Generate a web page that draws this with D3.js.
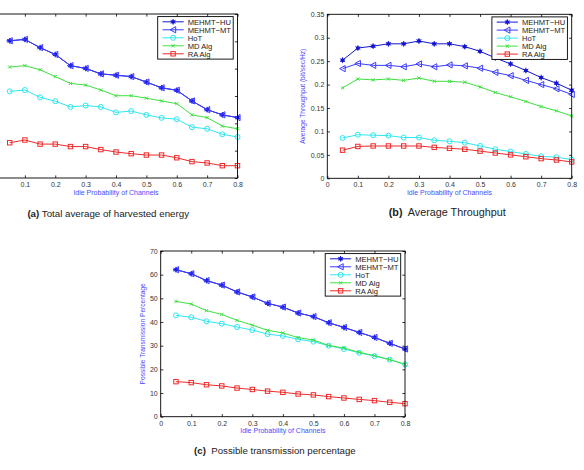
<!DOCTYPE html>
<html>
<head>
<meta charset="utf-8">
<script src="https://cdn.jsdelivr.net/npm/d3@7"></script>
<style>
  html, body { margin: 0; padding: 0; background: #fff; }
  svg { display: block; font-family: "Liberation Sans", Arial, Helvetica, sans-serif; }
</style>
</head>
<body>
<svg id="chart" width="584" height="470"></svg>
<script>
// ---------------- DATA ----------------
const xValues = [0.05, 0.1, 0.15, 0.2, 0.25, 0.3, 0.35, 0.4, 0.45, 0.5, 0.55, 0.6, 0.65, 0.7, 0.75, 0.8];
const xTicks = [0, 0.1, 0.2, 0.3, 0.4, 0.5, 0.6, 0.7, 0.8];
const xTickLabels = ["0", "0.1", "0.2", "0.3", "0.4", "0.5", "0.6", "0.7", "0.8"];
const seriesNames = ["MEHMT\u2212HU", "MEHMT\u2212MT", "HoT", "MD Alg", "RA Alg"];
const xAxisTitle = "Idle Probability of Channels";

// (a) Total average of harvested energy (y labels are cut off in the reference)
const energyHU  = [5.02, 5.07, 4.77, 4.52, 4.11, 4.01, 3.81, 3.76, 3.71, 3.51, 3.30, 3.21, 2.82, 2.50, 2.31, 2.21];
const energyMT  = [5.02, 5.07, 4.77, 4.52, 4.11, 4.01, 3.81, 3.76, 3.71, 3.51, 3.30, 3.21, 2.82, 2.50, 2.31, 2.21];
const energyHoT = [3.17, 3.22, 2.95, 2.81, 2.60, 2.65, 2.60, 2.40, 2.45, 2.31, 2.20, 2.15, 1.86, 1.80, 1.60, 1.50];
const energyMD  = [4.06, 4.11, 3.96, 3.71, 3.46, 3.40, 3.22, 3.01, 3.01, 2.92, 2.82, 2.72, 2.31, 2.21, 1.90, 1.80];
const energyRA  = [1.29, 1.39, 1.24, 1.24, 1.15, 1.15, 1.04, 0.95, 0.89, 0.84, 0.84, 0.74, 0.60, 0.55, 0.45, 0.45];
const energyTicks = [0, 1, 2, 3, 4, 5, 6];
const energyTickLabels = null; // hidden (off the visible page in the reference)
const energyXTickLabels = ["", "0.1", "0.2", "0.3", "0.4", "0.5", "0.6", "0.7", "0.8"];

// (b) Average Throughput
const thrHU  = [0.252, 0.278, 0.282, 0.287, 0.287, 0.293, 0.287, 0.287, 0.281, 0.271, 0.257, 0.244, 0.230, 0.215, 0.203, 0.188];
const thrMT  = [0.234, 0.245, 0.241, 0.241, 0.238, 0.244, 0.238, 0.242, 0.240, 0.235, 0.226, 0.219, 0.209, 0.200, 0.191, 0.179];
const thrHoT = [0.086, 0.093, 0.092, 0.091, 0.087, 0.087, 0.081, 0.079, 0.076, 0.069, 0.062, 0.057, 0.052, 0.047, 0.045, 0.040];
const thrMD  = [0.193, 0.212, 0.210, 0.212, 0.209, 0.214, 0.207, 0.207, 0.205, 0.195, 0.183, 0.174, 0.164, 0.153, 0.144, 0.133];
const thrRA  = [0.060, 0.068, 0.069, 0.069, 0.069, 0.069, 0.066, 0.064, 0.062, 0.058, 0.054, 0.050, 0.046, 0.042, 0.039, 0.035];
const thrTicks = [0, 0.05, 0.1, 0.15, 0.2, 0.25, 0.3, 0.35];
const thrTickLabels = ["0", "0.05", "0.1", "0.15", "0.2", "0.25", "0.3", "0.35"];

// (c) Possible transmission percentage
const trHU  = [62.1, 60.4, 57.5, 55.6, 52.7, 50.6, 47.9, 46.3, 43.8, 42.3, 39.7, 37.7, 35.6, 33.5, 31.0, 28.6];
const trMT  = [62.1, 60.4, 57.5, 55.6, 52.7, 50.6, 47.9, 46.3, 43.8, 42.3, 39.7, 37.7, 35.6, 33.5, 31.0, 28.6];
const trHoT = [42.8, 42.0, 40.3, 39.3, 37.9, 36.6, 34.9, 34.1, 32.7, 31.7, 30.0, 28.6, 27.0, 25.6, 24.1, 22.1];
const trMD  = [48.7, 47.6, 44.8, 43.2, 40.7, 38.7, 36.5, 35.4, 33.4, 32.4, 30.1, 29.0, 27.2, 25.8, 24.1, 22.1];
const trRA  = [14.8, 14.4, 13.5, 13.0, 12.1, 11.5, 10.8, 10.3, 9.6, 9.2, 8.5, 7.9, 7.3, 6.8, 6.1, 5.5];
const trTicks = [0, 10, 20, 30, 40, 50, 60, 70];
const trTickLabels = ["0", "10", "20", "30", "40", "50", "60", "70"];

// ---------------- STYLE ----------------
const seriesStyle = [
  { color: "#1414d2", marker: "star" },
  { color: "#3a3aff", marker: "triLeft" },
  { color: "#2fe6f0", marker: "circle" },
  { color: "#3ee03e", marker: "x" },
  { color: "#ee2a2a", marker: "square" }
];
const titleColor = "#4a4aff";
const tickColor = "#333";

const svg = d3.select("#chart");

function drawMarker(g, type, color) {
  if (type === "star") {
    g.append("circle").attr("r", 1.9).attr("fill", color);
    g.append("path").attr("d", d3.symbol(d3.symbolAsterisk, 22)()).attr("stroke", color).attr("stroke-width", 1).attr("fill", "none");
  } else if (type === "triLeft") {
    g.append("path").attr("d", "M-3,0L2.6,-3.1L2.6,3.1Z").attr("stroke", color).attr("stroke-width", 1).attr("fill", "none");
  } else if (type === "circle") {
    g.append("circle").attr("r", 2.5).attr("stroke", color).attr("stroke-width", 1).attr("fill", "none");
  } else if (type === "x") {
    g.append("path").attr("d", "M-1.6,-1.6L1.6,1.6M-1.6,1.6L1.6,-1.6").attr("stroke", color).attr("stroke-width", 1).attr("fill", "none");
  } else if (type === "square") {
    g.append("rect").attr("x", -2.2).attr("y", -2.2).attr("width", 4.4).attr("height", 4.4).attr("stroke", color).attr("stroke-width", 1).attr("fill", "none");
  }
}

function drawPanel(cfg) {
  const g = svg.append("g").attr("transform", `translate(${cfg.left},${cfg.top})`);
  const x = d3.scaleLinear().domain([0, 0.8]).range([0, cfg.width]);
  const y = d3.scaleLinear().domain([cfg.yTicks[0], cfg.yTicks[cfg.yTicks.length - 1]]).range([cfg.height, 0]);
  const tl = 2.6;

  g.append("rect").attr("width", cfg.width).attr("height", cfg.height).attr("fill", "#fff");

  const xLabs = cfg.xTickLabels;
  const xb = d3.axisBottom(x).tickValues(xTicks).tickSizeInner(-tl).tickSizeOuter(0).tickPadding(4)
    .tickFormat((d, i) => xLabs[i]);
  const xt = d3.axisTop(x).tickValues(xTicks).tickSizeInner(-tl).tickSizeOuter(0).tickFormat("");
  const yl = d3.axisLeft(y).tickValues(cfg.yTicks).tickSizeInner(-tl).tickSizeOuter(0).tickPadding(3)
    .tickFormat((d, i) => cfg.yTickLabels ? cfg.yTickLabels[i] : "");
  const yr = d3.axisRight(y).tickValues(cfg.yTicks).tickSizeInner(-tl).tickSizeOuter(0).tickFormat("");

  const styleAxis = a => {
    a.select(".domain").remove();
    a.selectAll("line").attr("stroke", "#000").attr("stroke-width", 0.8);
    a.selectAll("text").attr("fill", tickColor).style("font-size", "7px")
      .style("font-family", '"Liberation Sans", Arial, sans-serif');
    a.selectAll("text").filter(function () { return this.textContent === ""; }).remove();
  };
  g.append("g").attr("transform", `translate(0,${cfg.height})`).call(xb).call(styleAxis);
  g.append("g").call(xt).call(styleAxis);
  g.append("g").call(yl).call(styleAxis);
  g.append("g").attr("transform", `translate(${cfg.width},0)`).call(yr).call(styleAxis);

  const line = d3.line().x((d, i) => x(xValues[i])).y(d => y(d));
  cfg.series.forEach((vals, si) => {
    const st = seriesStyle[si];
    g.append("path").datum(vals).attr("d", line).attr("fill", "none")
      .attr("stroke", st.color).attr("stroke-width", 1);
    vals.forEach((v, i) => {
      const mg = g.append("g").attr("transform", `translate(${x(xValues[i])},${y(v)})`);
      drawMarker(mg, st.marker, st.color);
    });
  });

  g.append("rect").attr("width", cfg.width).attr("height", cfg.height)
    .attr("fill", "none").attr("stroke", "#000").attr("stroke-width", 0.9);

  g.append("text").attr("x", cfg.width / 2).attr("y", cfg.height + 16.5)
    .attr("text-anchor", "middle").attr("fill", titleColor).style("font-size", "7px").text(xAxisTitle);
  if (cfg.yTitle) {
    g.append("text").attr("transform", `translate(${cfg.yTitleX},${cfg.height / 2}) rotate(-90)`)
      .attr("text-anchor", "middle").attr("fill", titleColor).style("font-size", "6.6px").text(cfg.yTitle);
  }

  const lw = 75.5, lh = 42.5;
  const lx = cfg.width - 4.3 - lw, ly = 2.6;
  const lg = g.append("g").attr("transform", `translate(${lx},${ly})`);
  lg.append("rect").attr("width", lw).attr("height", lh).attr("fill", "#fff")
    .attr("stroke", "#000").attr("stroke-width", 0.9);
  seriesNames.forEach((name, i) => {
    const ry = 5.2 + i * 8;
    const st = seriesStyle[i];
    lg.append("line").attr("x1", 4.8).attr("x2", 26).attr("y1", ry).attr("y2", ry)
      .attr("stroke", st.color).attr("stroke-width", 1);
    const mg = lg.append("g").attr("transform", `translate(15.4,${ry})`);
    drawMarker(mg, st.marker, st.color);
    lg.append("text").attr("x", 30).attr("y", ry + 2.8).attr("fill", "#222")
      .style("font-size", "7.6px").text(name);
  });

  // caption, fitted to the width measured on the reference
  const cap = svg.append("text").attr("x", cfg.capX).attr("y", cfg.capY)
    .attr("text-anchor", "middle").attr("fill", "#222").style("font-size", "10px");
  cap.append("tspan").style("font-weight", "bold").text(cfg.capLabel);
  cap.append("tspan").style("white-space", "pre").text(cfg.capText);
  const w = cap.node().getComputedTextLength();
  if (w > 0) cap.style("font-size", (10 * cfg.capW / w).toFixed(2) + "px");
}

drawPanel({
  left: -5.5, top: 14, width: 243, height: 164,
  yTicks: energyTicks, yTickLabels: energyTickLabels, xTickLabels: energyXTickLabels,
  series: [energyHU, energyMT, energyHoT, energyMD, energyRA],
  yTitle: null, yTitleX: -20,
  capLabel: "(a)", capText: " Total average of harvested energy", capX: 108.2, capY: 217.3, capW: 161.7
});

drawPanel({
  left: 327.3, top: 14.3, width: 244.4, height: 164,
  yTicks: thrTicks, yTickLabels: thrTickLabels, xTickLabels: xTickLabels,
  series: [thrHU, thrMT, thrHoT, thrMD, thrRA],
  yTitle: "Average Throughput (bit/sec/Hz)", yTitleX: -22.5,
  capLabel: "(b)", capText: "  Average Throughput", capX: 447.2, capY: 216.2, capW: 117
});

drawPanel({
  left: 160.7, top: 251, width: 244.3, height: 165.7,
  yTicks: trTicks, yTickLabels: trTickLabels, xTickLabels: xTickLabels,
  series: [trHU, trMT, trHoT, trMD, trRA],
  yTitle: "Possible Transmission Percentage", yTitleX: -16,
  capLabel: "(c)", capText: "  Possible transmission percentage", capX: 274.9, capY: 454.2, capW: 161.7
});
</script>
</body>
</html>
